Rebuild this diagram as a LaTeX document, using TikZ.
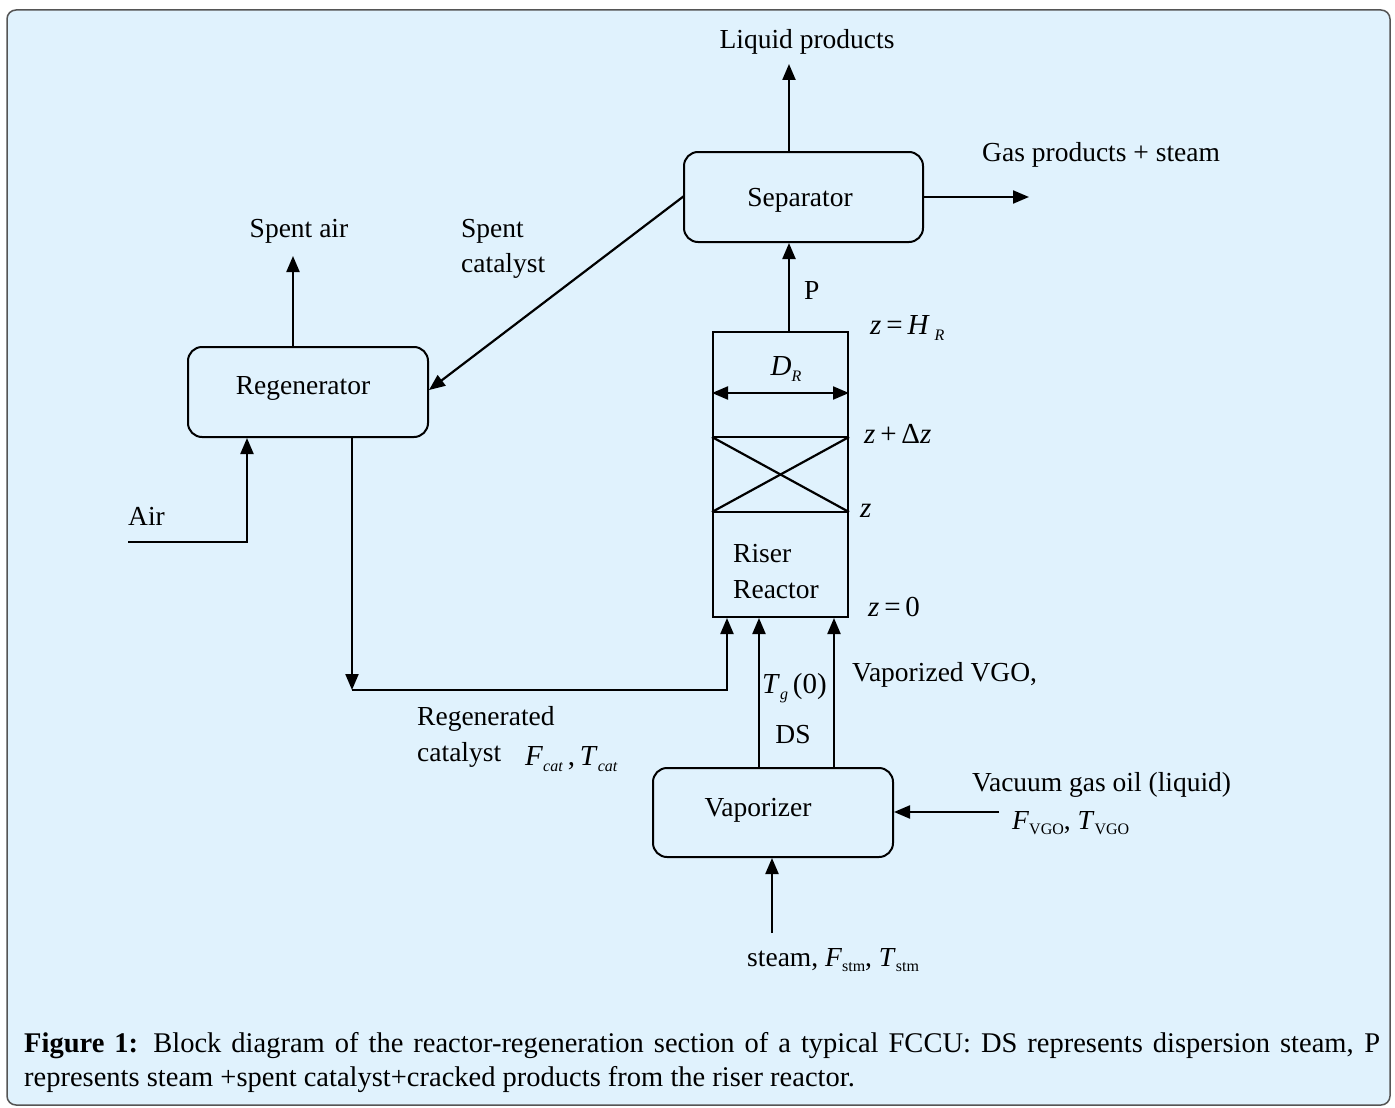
\documentclass[tikz,border=0pt]{standalone}
\usepackage{fontspec}
\setmainfont{Liberation Serif}
\usetikzlibrary{arrows.meta,calc}
\definecolor{bgblue}{HTML}{E0F2FD}
\definecolor{framegray}{HTML}{555555}
\newcommand{\mysub}[1]{\raisebox{-0.45ex}{\fontsize{16}{16}\selectfont #1}}
\newcommand{\myital}[1]{\textit{#1}}
\begin{document}
\begin{tikzpicture}[x=1pt,y=-1pt,
  font=\fontsize{27.5}{32}\selectfont,
  box/.style={draw, line width=2pt, rounded corners=14pt, inner sep=0pt},
  arr/.style={line width=2.2pt, -{Triangle[length=16pt,width=13pt]}},
  darr/.style={line width=2.2pt, {Triangle[length=16pt,width=13pt]}-{Triangle[length=16pt,width=13pt]}},
  ln/.style={line width=2.2pt},
  lbl/.style={inner sep=0pt, anchor=west},
  clbl/.style={inner sep=0pt}]
\useasboundingbox (0,0) rectangle (1395,1108);
\fill[white] (0,0) rectangle (1395,1108);
\draw[framegray, fill=bgblue, line width=1.5pt, rounded corners=9pt] (7,10) rectangle (1390,1105);

% boxes
\node[box, minimum width=239pt, minimum height=90pt] (sep) at (803.5,197) {};
\node[clbl] (sept) at (800,200) {Separator};
\node[box, minimum width=240pt, minimum height=90pt] (reg) at (308,392) {};
\node[clbl] (regt) at (303,388) {Regenerator};
\node[box, minimum width=240pt, minimum height=89pt] (vap) at (773,812.5) {};
\node[clbl] (vapt) at (758,810) {Vaporizer};
\node[draw, line width=2pt, minimum width=135pt, minimum height=285pt, inner sep=0pt] (riser) at (780.5,474.5) {};

% helper coordinates
\coordinate (xP) at (789,0);
\coordinate (xReg) at (352,0);
\coordinate (xCat) at (727,0);
\coordinate (xDS) at (759,0);
\coordinate (xVG) at (834,0);
\coordinate (xSA) at (293,0);
\coordinate (xAir) at (247,0);
\coordinate (xStm) at (772,0);
\coordinate (yTop) at (0,437);
\coordinate (yBot) at (0,512);
\coordinate (yDR) at (0,393);

% riser internals
\coordinate (c1) at (riser.west |- yTop);
\coordinate (c2) at (riser.east |- yTop);
\coordinate (c3) at (riser.west |- yBot);
\coordinate (c4) at (riser.east |- yBot);
\draw[ln] (c1) -- (c2);
\draw[ln] (c3) -- (c4);
\draw[ln] (c1) -- (c4);
\draw[ln] (c2) -- (c3);
\draw[darr] (riser.west |- yDR) -- (riser.east |- yDR);

% outputs of separator
\coordinate (lpEnd) at (789,64);
\draw[arr] (sep.north -| xP) -- (lpEnd);
\coordinate (gpEnd) at (1029,197);
\draw[arr] (sep.east |- gpEnd) -- (gpEnd);

% P
\draw[arr] (riser.north -| xP) -- (sep.south -| xP);

% spent catalyst
\coordinate (scS) at (684,196);
\coordinate (scE) at (429,390);
\draw[arr] (scS) -- (scE);

% spent air
\coordinate (saEnd) at (293,256);
\draw[arr] (reg.north -| xSA) -- (saEnd);

% air
\coordinate (airS) at (128,542);
\draw[arr] (airS) -- (airS -| xAir) -- (reg.south -| xAir);

% regenerated catalyst
\coordinate (rcC) at (352,690);
\coordinate (rcC2) at (727,690);
\draw[arr] (reg.south -| xReg) -- (rcC);
\draw[arr] (rcC) -- (rcC2) -- (riser.south -| xCat);

% vaporizer to riser
\draw[arr] (vap.north -| xDS) -- (riser.south -| xDS);
\draw[arr] (vap.north -| xVG) -- (riser.south -| xVG);

% VGO in
\coordinate (vgoS) at (999,812);
\draw[arr] (vgoS) -- (vap.east |- vgoS);

% steam in
\coordinate (stmS) at (772,933);
\draw[arr] (stmS) -- (vap.south -| xStm);

% labels
\node[clbl] (tLP) at (807,42) {Liquid products};
\node[lbl] (tGP) at (982,155) {Gas products + steam};
\node[clbl] (tSA) at (299,231) {Spent air};
\node[lbl] (tSC1) at (461,231) {Spent};
\node[lbl] (tSC2) at (461,266) {catalyst};
\node[lbl] (tAir) at (128,516) {Air};
\node[lbl] (tP) at (804,290) {P};
\node[clbl] (tDR) at (786,369) {\fontsize{29}{30}\selectfont\myital{D}\mysub{\myital{R}}};
\node[lbl] (tZH) at (870,328) {\fontsize{29}{30}\selectfont\myital{z}\,=\,\myital{H}\,\mysub{\myital{R}}};
\node[lbl] (tZD) at (864,434) {\fontsize{29}{30}\selectfont\myital{z}\,+\,Δ\myital{z}};
\node[lbl] (tZ) at (860,511) {\fontsize{29}{30}\selectfont\myital{z}};
\node[lbl] (tR1) at (733,554) {Riser};
\node[lbl] (tR2) at (733,590) {Reactor};
\node[lbl] (tZ0) at (868,607) {\fontsize{29}{30}\selectfont\myital{z}\,=\,0};
\node[lbl] (tRC1) at (417,719) {Regenerated};
\node[lbl] (tRC2) at (417,755) {catalyst};
\node[lbl] (tFc) at (525,759) {\fontsize{29}{30}\selectfont\myital{F}\mysub{\myital{cat}}\,,\,\myital{T}\mysub{\myital{cat}}};
\node[lbl] (tTg) at (762,688) {\fontsize{29}{30}\selectfont\myital{T}\mysub{\myital{g}}\,(0)};
\node[clbl] (tDS) at (793,735) {DS};
\node[lbl] (tVV) at (852,675) {Vaporized VGO,};
\node[lbl] (tVG1) at (972,785) {Vacuum gas oil (liquid)};
\node[lbl] (tVG2) at (1012,823) {\myital{F}\mysub{VGO}, \myital{T}\mysub{VGO}};
\node[lbl] (tSt) at (747,960) {steam, \myital{F}\mysub{stm}, \myital{T}\mysub{stm}};

% caption
\node[anchor=north west, inner sep=0pt, text width=1356pt, align=justify,
      font=\fontsize{28.5}{34}\selectfont] (cap) at (24,1032)
  {\textbf{Figure 1:} Block diagram of the reactor-regeneration section of a typical FCCU: DS represents dispersion steam, P\linebreak represents steam +spent catalyst+cracked products from the riser reactor.};
\end{tikzpicture}
\end{document}
